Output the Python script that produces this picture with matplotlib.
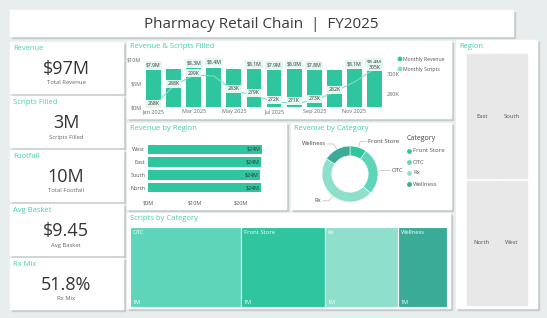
import numpy as np
import matplotlib.pyplot as plt
from matplotlib.patches import Rectangle

plt.rcParams['font.family'] = ['Open Sans', 'DejaVu Sans']

W, H = 547, 318

# ---- data ----
months = ["Jan 2025", "Feb 2025", "Mar 2025", "Apr 2025", "May 2025", "Jun 2025",
          "Jul 2025", "Aug 2025", "Sep 2025", "Oct 2025", "Nov 2025", "Dec 2025"]
revenue_m = [7.9, 8.0, 8.3, 8.4, 8.0, 8.1, 7.9, 8.0, 7.8, 7.9, 8.1, 8.4]
scripts_k = [268, 288, 299, 298, 283, 279, 272, 271, 273, 282, 292, 305]
rev_label_idx = [0, 2, 3, 5, 6, 7, 8, 10, 11]
scr_label_idx = [0, 1, 2, 4, 5, 6, 7, 8, 9, 11]

regions = ["West", "East", "South", "North"]
region_rev_m = [24.4, 24.2, 24.1, 24.3]

categories = ["Front Store", "OTC", "Rx", "Wellness"]
category_rev_pct = [9.7, 27.3, 47.2, 15.8]

tree_cats = ["OTC", "Front Store", "Rx", "Wellness"]
tree_scripts_m = [1.05, 0.79, 0.69, 0.46]
tree_labels = ["1M", "1M", "1M", "1M"]

kpi_titles = ["Revenue", "Scripts Filled", "Footfall", "Avg Basket", "Rx Mix"]
kpi_values = ["$97M", "3M", "10M", "$9.45", "51.8%"]
kpi_subs = ["Total Revenue", "Scripts Filled", "Total Footfall", "Avg Basket", "Rx Mix"]

slicer_regions = ["East", "South", "North", "West"]

# ---- style ----
BG = '#e7eeed'
TEAL = '#2ec59f'
LINE = '#7ddfc6'
TITLE_C = '#41d1ae'
cat_colors = {"Front Store": '#2ec59f', "OTC": '#5ed5b9', "Rx": '#8ee0cc', "Wellness": '#3aab97'}


def px_axes(x, y, w, h):
    return fig.add_axes([x / W, 1 - (y + h) / H, w / W, h / H])


fig = plt.figure(figsize=(W / 100, H / 100), dpi=100)
fig.patch.set_facecolor(BG)

bg = fig.add_axes([0, 0, 1, 1])
bg.set_xlim(0, W)
bg.set_ylim(H, 0)
bg.axis('off')


def panel(x, y, w, h, title=None):
    bg.add_patch(Rectangle((x + 1.5, y + 1.5), w, h, color='#c5cdcc', zorder=1))
    bg.add_patch(Rectangle((x, y), w, h, color='white', zorder=2))
    if title:
        bg.text(x + 3, y + 6, title, color=TITLE_C, fontsize=5.5, va='center', zorder=3)


# title bar
panel(10, 10, 503, 26)
bg.text(261, 24, "Pharmacy Retail Chain  |  FY2025", fontsize=11, color='#3a3a3a',
        ha='center', va='center', zorder=3)

# KPI cards
for i, (t, v, s) in enumerate(zip(kpi_titles, kpi_values, kpi_subs)):
    top = 42 + i * 54
    panel(10, top, 113, 51, t)
    bg.text(66, top + 27, v, fontsize=13, color='#333333', ha='center', va='center', zorder=3)
    bg.text(66, top + 41, s, fontsize=4.2, color='#666666', ha='center', va='center', zorder=3)

# other panels
panel(127, 41, 324, 77, "Revenue & Scripts Filled")
panel(127, 123, 159, 86, "Revenue by Region")
panel(291, 123, 160, 86, "Revenue by Category")
panel(127, 213, 323, 95, "Scripts by Category")
panel(456, 40, 81, 268, "Region")

# ---- combo chart ----
x = np.arange(len(months))
ax = px_axes(143.5, 60, 241, 47)
ax.bar(x, revenue_m, width=0.74, color=TEAL, zorder=2)
ax.set_xlim(-0.5, 11.5)
ax.set_ylim(0, 10)
ax.set_yticks([0, 5, 10])
ax.set_yticklabels(["$0M", "$5M", "$10M"])
ax.set_xticks(x[::2])
ax.set_xticklabels(months[::2])
ax.tick_params(length=0, labelsize=4, labelcolor='#666666', pad=1.5)
for sp in ax.spines.values():
    sp.set_visible(False)
ax.patch.set_alpha(0)
for i in rev_label_idx:
    ax.text(i, revenue_m[i] + 1.1, f"${revenue_m[i]:.1f}M", ha='center', va='center',
            fontsize=3.7, color='#333333', zorder=5,
            bbox=dict(boxstyle='square,pad=0.3', fc='#e4f6f0', ec='none'))

ax2 = ax.twinx()
ax2.plot(x, scripts_k, color=LINE, lw=0.8, zorder=3)
ax2.set_ylim(267, 314)
ax2.set_yticks([280, 300])
ax2.set_yticklabels(["280K", "300K"])
ax2.tick_params(length=0, labelsize=4, labelcolor='#666666', pad=1.5)
for sp in ax2.spines.values():
    sp.set_visible(False)
for i in scr_label_idx:
    ax2.text(i, scripts_k[i] + 2, f"{scripts_k[i]}K", ha='center', va='center',
             fontsize=3.7, color='#333333', zorder=5,
             bbox=dict(boxstyle='square,pad=0.3', fc='#e4f6f0', ec='none'))

bg.scatter([400, 400], [59, 69], s=6, color=[TEAL, LINE], zorder=4)
bg.text(403, 59, "Monthly Revenue", fontsize=3.7, color='#555555', va='center', zorder=4)
bg.text(403, 69, "Monthly Scripts", fontsize=3.7, color='#555555', va='center', zorder=4)

# ---- revenue by region ----
axr = px_axes(148, 143, 127, 51)
yr = np.arange(len(regions))
axr.barh(yr, region_rev_m, height=0.75, color=TEAL)
axr.set_ylim(3.5, -0.5)
axr.set_xlim(0, 27.3)
axr.set_yticks(yr)
axr.set_yticklabels(regions)
axr.set_xticks([0, 10, 20])
axr.set_xticklabels(["$0M", "$10M", "$20M"])
axr.tick_params(length=0, labelsize=4, labelcolor='#555555', pad=2)
axr.tick_params(axis='x', pad=5)
for sp in axr.spines.values():
    sp.set_visible(False)
for i, v in enumerate(region_rev_m):
    axr.text(v - 0.3, i, f"${v:.0f}M", ha='right', va='center', fontsize=3.8, color='#333333')

# ---- revenue by category donut ----
axp = px_axes(322, 146, 56, 56)
wedges, _ = axp.pie(category_rev_pct, colors=[cat_colors[c] for c in categories],
                    startangle=90, counterclock=False,
                    wedgeprops=dict(width=0.35, edgecolor='white', linewidth=0.4))
axp.set_xlim(-1, 1)
axp.set_ylim(-1, 1)
for w, c in zip(wedges, categories):
    ang = np.deg2rad((w.theta1 + w.theta2) / 2)
    px, py = np.cos(ang), np.sin(ang)
    ex, ey = 1.22 * px, 1.22 * py
    side = 1 if px >= 0 else -1
    axp.plot([1.02 * px, ex, ex + 0.22 * side], [1.02 * py, ey, ey], color='#aaaaaa',
             lw=0.4, clip_on=False)
    axp.text(ex + 0.27 * side, ey, c, fontsize=4.2, color='#444444', va='center',
             ha='left' if side > 0 else 'right', clip_on=False)

bg.text(407, 139, "Category", fontsize=5, color='#444444', va='center', zorder=4)
for j, c in enumerate(categories):
    yy = 151 + j * 11
    bg.scatter([409], [yy], s=6, color=cat_colors[c], zorder=4)
    bg.text(413, yy, c, fontsize=4.3, color='#555555', va='center', zorder=4)

# ---- scripts by category treemap ----
axt = px_axes(130, 227, 317, 80)
total = sum(tree_scripts_m)
left = 0
for c, v, lab in zip(tree_cats, tree_scripts_m, tree_labels):
    axt.add_patch(Rectangle((left, 0), v, 1, facecolor=cat_colors[c], edgecolor='white', lw=0.8))
    axt.text(left + total * 0.008, 0.93, c, fontsize=4.2, color='white', va='center')
    axt.text(left + total * 0.008, 0.05, lab, fontsize=3.9, color='white', va='center')
    left += v
axt.set_xlim(0, total)
axt.set_ylim(0, 1)
axt.axis('off')

# ---- region slicer ----
tiles = [(467, 54), (497, 54), (467, 181), (497, 181)]
for (tx, ty), r in zip(tiles, slicer_regions):
    bg.add_patch(Rectangle((tx, ty), 29.5, 124, color='#e8e8e8', zorder=3))
    bg.text(tx + 14.75, ty + 62, r, fontsize=4.2, color='#555555', ha='center', va='center', zorder=4)

fig.savefig('out.png', dpi=100, facecolor=fig.get_facecolor())
